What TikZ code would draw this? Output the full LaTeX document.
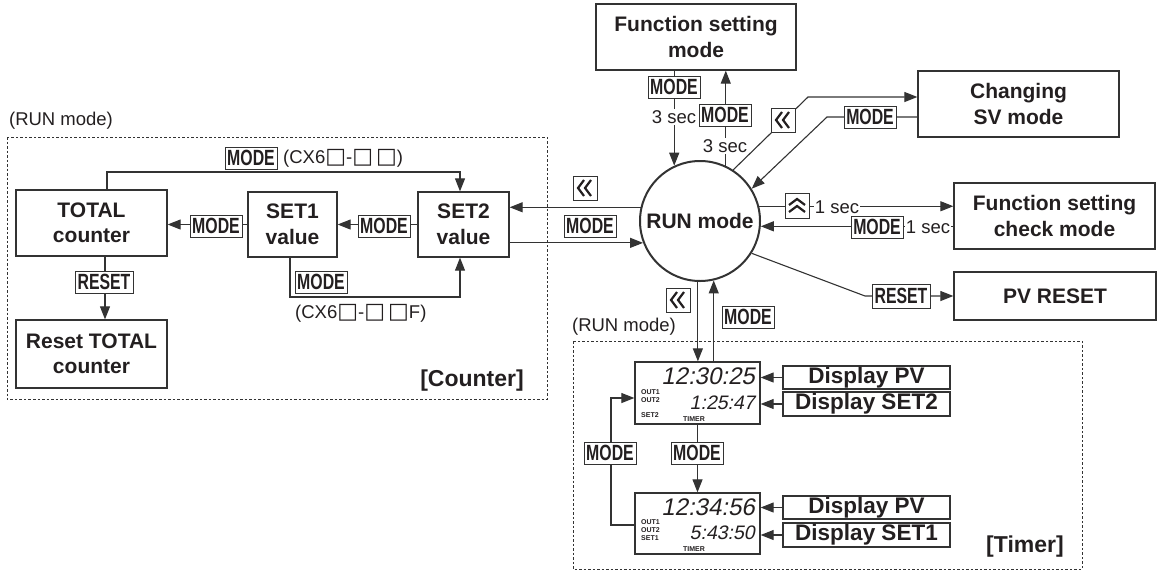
\documentclass[tikz,border=0pt]{standalone}
\usepackage{fontspec}
\setmainfont{Liberation Sans}
\newfontfamily\cnd[FakeStretch=0.72]{Liberation Sans}
\newfontfamily\lcdf[FakeSlant=0.2]{Liberation Sans}
\newfontfamily\dvs{DejaVu Sans}
\newcommand{\sqb}{{\dvs\fontsize{22}{22}\selectfont □}}
\usetikzlibrary{arrows.meta,calc}
\definecolor{ln}{HTML}{333333}
\definecolor{tx}{HTML}{231F20}
\tikzset{
  box/.style={draw=ln, line width=1.3pt, align=center, inner sep=0pt, text=tx,
    font=\bfseries\fontsize{21}{25.5}\selectfont},
  dbox/.style={draw=ln, line width=1.3pt, inner sep=0pt, text=tx, minimum width=167pt,
    font=\bfseries\fontsize{22.5}{24}\selectfont},
  lcd/.style={draw=ln, line width=1.3pt, inner sep=0pt, minimum width=125pt},
  conn/.style={draw=ln, line width=1.1pt},
  arr/.style={conn, -{Triangle[length=13pt,width=10pt]}},
  key/.style={draw=ln, line width=1pt, fill=white, inner sep=0pt, text=tx,
    minimum width=52pt, minimum height=22pt,
    font=\cnd\bfseries\fontsize{22}{22}\selectfont},
  sec/.style={fill=white, inner sep=1pt, text=tx, font=\fontsize{18.5}{20}\selectfont},
  note/.style={inner sep=0pt, text=tx, font=\fontsize{18.5}{20}\selectfont},
  tag/.style={inner sep=0pt, text=tx, font=\bfseries\fontsize{23}{25}\selectfont},
  tiny/.style={inner sep=0pt, text=tx, font=\bfseries\fontsize{7}{8}\selectfont},
  digbig/.style={inner sep=0pt, text=tx, font=\lcdf\fontsize{24}{24}\selectfont},
  digsm/.style={inner sep=0pt, text=tx, font=\lcdf\fontsize{19.5}{20}\selectfont},
  dashbox/.style={draw=ln, line width=1pt, dash pattern=on 2.5pt off 2pt},
  chevL/.style={draw=ln, line width=1pt, fill=white, minimum width=24pt, minimum height=24pt,
    inner sep=0pt, path picture={
      \draw[tx, line width=2.2pt]
        ([shift={(-1pt,8pt)}]path picture bounding box.center) --
        ([shift={(-7pt,0pt)}]path picture bounding box.center) --
        ([shift={(-1pt,-8pt)}]path picture bounding box.center);
      \draw[tx, line width=2.2pt]
        ([shift={(6pt,8pt)}]path picture bounding box.center) --
        ([shift={(0pt,0pt)}]path picture bounding box.center) --
        ([shift={(6pt,-8pt)}]path picture bounding box.center);}},
  chevU/.style={draw=ln, line width=1pt, fill=white, minimum width=24pt, minimum height=25pt,
    inner sep=0pt, path picture={
      \draw[tx, line width=2.2pt]
        ([shift={(8pt,1pt)}]path picture bounding box.center) --
        ([shift={(0pt,7pt)}]path picture bounding box.center) --
        ([shift={(-8pt,1pt)}]path picture bounding box.center);
      \draw[tx, line width=2.2pt]
        ([shift={(8pt,-6pt)}]path picture bounding box.center) --
        ([shift={(0pt,0pt)}]path picture bounding box.center) --
        ([shift={(-8pt,-6pt)}]path picture bounding box.center);}}
}
\begin{document}
\begin{tikzpicture}[x=1pt,y=-1pt]
\useasboundingbox (0,0) rectangle (1159,571);

% dashed frames
\draw[dashbox] (7,137) rectangle (547,399);
\draw[dashbox] (573,341) rectangle (1082,569);
\node[note] (runA) at (61,121) {(RUN mode)};
\node[note] (runB) at (624,327) {(RUN mode)};
\node[tag] (ctag) at (472,381) {[Counter]};
\node[tag] (ttag) at (1025,547) {[Timer]};

% counter boxes
\node[box, minimum width=151pt, minimum height=66pt] (total) at (91.5,223) {TOTAL\\counter};
\node[box, minimum width=89pt, minimum height=65pt] (set1) at (292.5,224.5) {SET1\\value};
\node[box, minimum width=91pt, minimum height=65pt] (set2) at (463.5,224.5) {SET2\\value};
\node[box, minimum width=151pt, minimum height=68pt] (resettot) at (91.5,354) {Reset TOTAL\\counter};

% main boxes
\node[box, minimum width=200pt, minimum height=66pt] (fsm) at (696,37) {Function setting\\mode};
\node[box, minimum width=201pt, minimum height=66pt] (csv) at (1018.5,104) {Changing\\SV mode};
\node[box, minimum width=201pt, minimum height=66pt] (fscm) at (1054.5,216) {Function setting\\check mode};
\node[box, minimum width=202pt, minimum height=48pt] (pvr) at (1055,296) {PV RESET};
\node[box, circle, line width=2pt, minimum size=120pt] (run) at (700,221) {RUN mode};

% timer LCDs
\node[lcd, minimum height=62pt] (lcd1) at (697.5,393) {};
\node[lcd, minimum height=61pt] (lcd2) at (697.5,523.5) {};
\node[dbox, minimum height=23pt] (dpv1) at (866.5,377.5) {Display PV};
\node[dbox, minimum height=24pt] (dset2) at (866.5,404) {Display SET2};
\node[dbox, minimum height=23pt] (dpv2) at (866.5,507.5) {Display PV};
\node[dbox, minimum height=24pt] (dset1) at (866.5,535) {Display SET1};

\node[digbig, anchor=east] (d1a) at (755,376) {12:30:25};
\node[digsm, anchor=east] (d1b) at (755,403) {1:25:47};
\node[tiny, anchor=west] (o11) at (641,392) {OUT1};
\node[tiny, anchor=west] (o12) at (641,400) {OUT2};
\node[tiny, anchor=west] (o13) at (641,415) {SET2};
\node[tiny] (tm1) at (694,419) {TIMER};
\node[digbig, anchor=east] (d2a) at (755,507) {12:34:56};
\node[digsm, anchor=east] (d2b) at (755,533) {5:43:50};
\node[tiny, anchor=west] (o21) at (641,522) {OUT1};
\node[tiny, anchor=west] (o22) at (641,530) {OUT2};
\node[tiny, anchor=west] (o23) at (641,538) {SET1};
\node[tiny] (tm2) at (694,549) {TIMER};

% counter connectors
\coordinate (tl) at (107,172); \coordinate (tr) at (460,172);
\draw[arr] (total.north -| tl) -- (tl) -- (tr) -- (set2.north -| tr);
\coordinate (bl) at (290,297); \coordinate (br) at (460,297);
\draw[arr] (set1.south -| bl) -- (bl) -- (br) -- (set2.south -| br);
\draw[arr] (set1.west) -- (total.east |- set1.west);
\draw[arr] (set2.west) -- (set1.east |- set2.west);
\coordinate (rx) at (105,0);
\draw[arr] (total.south -| rx) -- (resettot.north -| rx);

% run <-> counter
\draw[arr] (run.167.5) -- (set2.east |- run.167.5);
\draw[arr] (set2.east |- run.201.5) -- (run.201.5);

% run <-> function setting mode
\draw[arr] (fsm.south -| run.115.7) -- (run.115.7);
\draw[arr] (run.65.4) -- (fsm.south -| run.65.4);

% run <-> changing SV
\coordinate (c1) at (808,97);
\draw[arr] (run.57) -- (c1) -- (csv.west |- c1);
\coordinate (c2) at (827,117);
\draw[arr] (csv.west |- c2) -- (c2) -- (run.32);

% run <-> check mode
\draw[arr] (run.14.5) -- (fscm.west |- run.14.5);
\draw[arr] (fscm.west |- run.355.2) -- (run.355.2);

% run -> PV reset
\coordinate (c3) at (865,296);
\draw[arr] (run.328) -- (c3) -- (pvr.west |- c3);

% run <-> timer
\draw[arr] (run.268) -- (lcd1.north -| run.268);
\draw[arr] (lcd1.north -| run.283.5) -- (run.283.5);
\draw[arr] (lcd1.south) -- (lcd2.north);
\coordinate (c4) at (611,525); \coordinate (c5) at (611,398);
\draw[arr] (lcd2.west |- c4) -- (c4) -- (c5) -- (lcd1.west |- c5);
\draw[arr] (dpv1.west) -- (lcd1.east |- dpv1.west);
\draw[arr] (dset2.west) -- (lcd1.east |- dset2.west);
\draw[arr] (dpv2.west) -- (lcd2.east |- dpv2.west);
\draw[arr] (dset1.west) -- (lcd2.east |- dset1.west);

% key labels
\node[key] (m1) at (216,226) {MODE};
\node[key] (m2) at (384,226) {MODE};
\node[key] (m3) at (251,158) {MODE};
\node[note, anchor=west] (cx1) at (283,158) {(CX6\sqb-\sqb\,\sqb)};
\node[key] (m4) at (321,282) {MODE};
\node[note, anchor=west] (cx2) at (295,313) {(CX6\sqb-\sqb\,\sqb F)};
\node[key, minimum width=58pt] (rs1) at (104,282) {RESET};
\node[chevL] (k1) at (585,188) {};
\node[key] (m5) at (590,226) {MODE};
\node[key] (m6) at (674,87) {MODE};
\node[sec] (s1) at (674,117) {3 sec};
\node[key] (m7) at (725,115) {MODE};
\node[sec] (s2) at (725,146) {3 sec};
\node[chevL] (k2) at (783,120) {};
\node[key] (m8) at (870,117) {MODE};
\node[chevU] (ku) at (797,206) {};
\node[sec] (s3) at (837,207) {1 sec};
\node[key] (m9) at (877,227) {MODE};
\node[sec] (s4) at (928,227) {1 sec};
\node[key, minimum width=58pt, minimum height=24pt] (rs2) at (901,296) {RESET};
\node[chevL] (k4) at (678,300) {};
\node[key] (m10) at (748,317) {MODE};
\node[key] (m11) at (697,453) {MODE};
\node[key] (m12) at (610,453) {MODE};
\end{tikzpicture}
\end{document}
